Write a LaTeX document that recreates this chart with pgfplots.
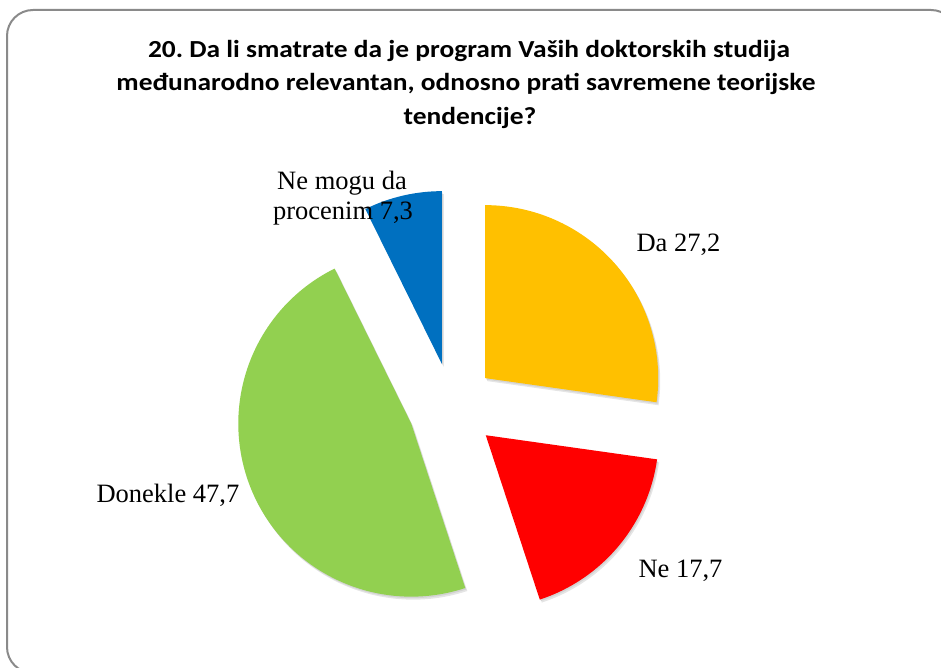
\documentclass[border=0pt]{standalone}
\usepackage{pgfplots}
\pgfplotsset{compat=1.18}
\usepackage{fontspec}
\setmainfont{Liberation Serif}
\newfontfamily\titlefont[FakeStretch=1.12]{Carlito}
\frenchspacing
\definecolor{cDa}{HTML}{FFC000}
\definecolor{cNe}{HTML}{FF0000}
\definecolor{cDon}{HTML}{92D050}
\definecolor{cNm}{HTML}{0070C0}
\definecolor{frame}{HTML}{8A8A8A}
% slice values (percent)
\def\vDa{27.2}\def\vNe{17.7}\def\vDon{47.7}\def\vNm{7.3}
\def\R{173}\def\D{44}\def\CX{452}\def\CY{260}
\newcommand\slice[5]{%
  \addplot[draw=none, fill=black, opacity=0.10, domain=#2:#3, samples=100]
    ({#4+2+\R*cos(x)},{#5-3+\R*sin(x)}) -- (axis cs:#4+2,#5-3) -- cycle;
  \addplot[draw=none, fill=black, opacity=0.08, domain=#2:#3, samples=100]
    ({#4+1+\R*cos(x)},{#5-1.5+\R*sin(x)}) -- (axis cs:#4+1,#5-1.5) -- cycle;
  \addplot[draw=none, fill=#1, domain=#2:#3, samples=100]
    ({#4+\R*cos(x)},{#5+\R*sin(x)}) -- (axis cs:#4,#5) -- cycle;
}
\begin{document}
\begin{tikzpicture}
\path[use as bounding box, clip] (0,0) rectangle (941pt,667pt);
\pgfmathsetmacro\tot{\vDa+\vNe+\vDon+\vNm}
\pgfmathsetmacro\k{360/\tot}
\pgfmathsetmacro\sA{90}
\pgfmathsetmacro\eA{\sA-\k*\vDa}
\pgfmathsetmacro\eB{\eA-\k*\vNe}
\pgfmathsetmacro\eC{\eB-\k*\vDon}
\pgfmathsetmacro\eD{\eC-\k*\vNm}
\pgfmathsetmacro\pxA{\CX+\D*cos((\sA+\eA)/2)}\pgfmathsetmacro\pyA{\CY+\D*sin((\sA+\eA)/2)}
\pgfmathsetmacro\pxB{\CX+\D*cos((\eA+\eB)/2)}\pgfmathsetmacro\pyB{\CY+\D*sin((\eA+\eB)/2)}
\pgfmathsetmacro\pxC{\CX+\D*cos((\eB+\eC)/2)}\pgfmathsetmacro\pyC{\CY+\D*sin((\eB+\eC)/2)}
\pgfmathsetmacro\pxD{\CX+\D*cos((\eC+\eD)/2)}\pgfmathsetmacro\pyD{\CY+\D*sin((\eC+\eD)/2)}
\begin{axis}[x=1pt, y=1pt, xmin=0, xmax=941, ymin=0, ymax=667,
  hide axis, clip=false, anchor=origin, at={(0,0)}]
\draw[frame, line width=2pt, rounded corners=26pt] (axis cs:7,657) rectangle (axis cs:957,-6);
\slice{cDa}{\eA}{\sA}{\pxA}{\pyA}
\slice{cNe}{\eB}{\eA}{\pxB}{\pyB}
\slice{cDon}{\eC}{\eB}{\pxC}{\pyC}
\slice{cNm}{\eD}{\eC}{\pxD}{\pyD}
\node[font=\titlefont\bfseries\fontsize{24.5}{28}\selectfont, anchor=base] at (axis cs:469,609) {20. Da li smatrate da je program Vaših doktorskih studija};
\node[font=\titlefont\bfseries\fontsize{24.5}{28}\selectfont, anchor=base] at (axis cs:466,576) {međunarodno relevantan, odnosno prati savremene teorijske};
\node[font=\titlefont\bfseries\fontsize{24.5}{28}\selectfont, anchor=base] at (axis cs:470,542) {tendencije?};
\node[font=\fontsize{26.5}{30}\selectfont, anchor=base west] at (axis cs:633,415) {Da 27,2};
\node[font=\fontsize{26.5}{30}\selectfont, anchor=base west] at (axis cs:635,90) {Ne 17,7};
\node[font=\fontsize{26.5}{30}\selectfont, anchor=base west] at (axis cs:93,165) {Donekle 47,7};
\node[font=\fontsize{26.5}{30}\selectfont, anchor=base] at (axis cs:342,477) {Ne mogu da};
\node[font=\fontsize{26.5}{30}\selectfont, anchor=base] at (axis cs:343,447) {procenim 7,3};
\end{axis}
\end{tikzpicture}
\end{document}
